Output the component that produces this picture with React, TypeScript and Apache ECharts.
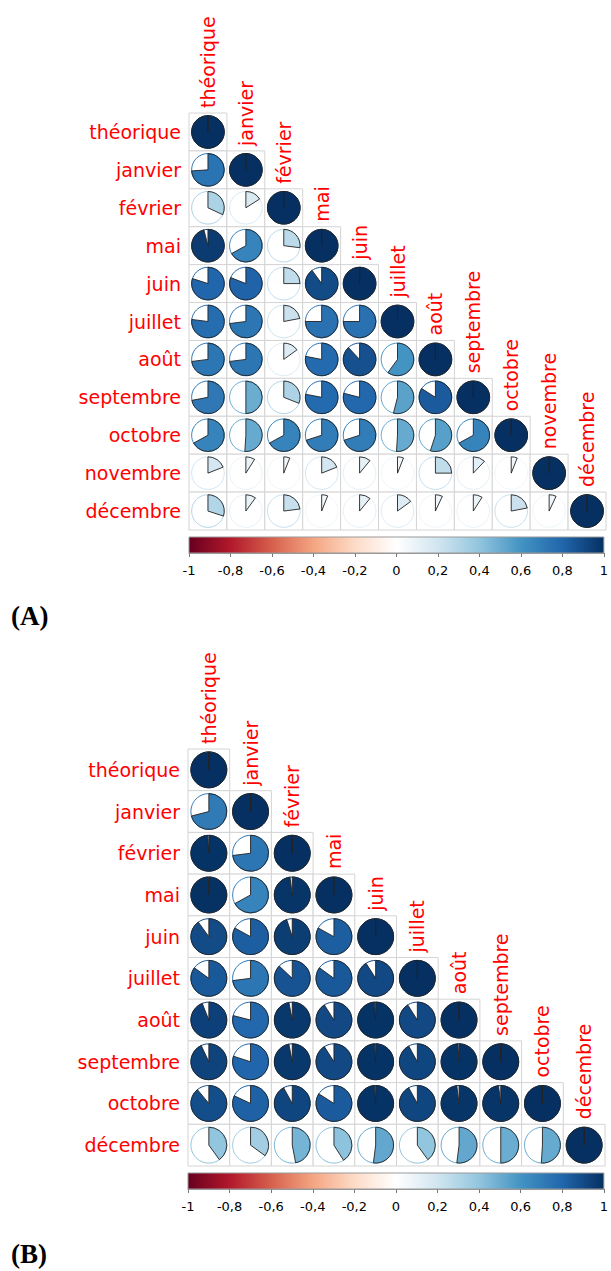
import React, { useEffect, useRef } from "react";
import * as echarts from "echarts";

// ---------- data ----------
const varsA = ["théorique", "janvier", "février", "mai", "juin", "juillet", "août", "septembre", "octobre", "novembre", "décembre"];
// lower triangle, row by row (row i has i+1 values)
const corrA_theorique = [1];
const corrA_janvier = [0.74, 1];
const corrA_fevrier = [0.32, 0.16, 1];
const corrA_mai = [0.96, 0.67, 0.27, 1];
const corrA_juin = [0.8, 0.81, 0.25, 0.9, 1];
const corrA_juillet = [0.77, 0.73, 0.22, 0.75, 0.75, 1];
const corrA_aout = [0.73, 0.73, 0.15, 0.78, 0.88, 0.6, 1];
const corrA_septembre = [0.72, 0.5, 0.31, 0.78, 0.79, 0.54, 0.84, 1];
const corrA_octobre = [0.67, 0.51, 0.67, 0.7, 0.7, 0.51, 0.55, 0.67, 1];
const corrA_novembre = [0.19, 0.09, 0.06, 0.19, 0.11, 0.06, 0.25, 0.12, 0.06, 1];
const corrA_decembre = [0.3, 0.1, 0.23, 0.06, 0.11, 0.15, 0.07, 0.09, 0.22, 0.07, 1];
const rowsA = [corrA_theorique, corrA_janvier, corrA_fevrier, corrA_mai, corrA_juin, corrA_juillet, corrA_aout, corrA_septembre, corrA_octobre, corrA_novembre, corrA_decembre];

const varsB = ["théorique", "janvier", "février", "mai", "juin", "juillet", "août", "septembre", "octobre", "décembre"];
const corrB_theorique = [1];
const corrB_janvier = [0.71, 1];
const corrB_fevrier = [0.99, 0.73, 1];
const corrB_mai = [0.995, 0.67, 0.98, 1];
const corrB_juin = [0.9, 0.83, 0.95, 0.83, 1];
const corrB_juillet = [0.85, 0.73, 0.87, 0.85, 0.91, 1];
const corrB_aout = [0.94, 0.79, 0.97, 0.91, 0.99, 0.91, 1];
const corrB_septembre = [0.93, 0.8, 0.97, 0.91, 0.99, 0.92, 0.99, 1];
const corrB_octobre = [0.89, 0.82, 0.92, 0.84, 0.99, 0.92, 0.98, 0.98, 1];
const corrB_decembre = [0.4, 0.35, 0.47, 0.41, 0.52, 0.4, 0.52, 0.5, 0.51, 1];
const rowsB = [corrB_theorique, corrB_janvier, corrB_fevrier, corrB_mai, corrB_juin, corrB_juillet, corrB_aout, corrB_septembre, corrB_octobre, corrB_decembre];

const colorbarTicks = [-1, -0.8, -0.6, -0.4, -0.2, 0, 0.2, 0.4, 0.6, 0.8, 1];
const RDBU = ["#67001F", "#B2182B", "#D6604D", "#F4A582", "#FDDBC7", "#FFFFFF", "#D1E5F0", "#92C5DE", "#4393C3", "#2166AC", "#053061"];

// ---------- helpers ----------
function hexToRgb(h: string) {
  const n = parseInt(h.slice(1), 16);
  return [(n >> 16) & 255, (n >> 8) & 255, n & 255];
}
function colorOf(v: number) {
  const t = ((v + 1) / 2) * 10;
  const i = Math.max(0, Math.min(9, Math.floor(t)));
  const f = t - i;
  const a = hexToRgb(RDBU[i]);
  const b = hexToRgb(RDBU[i + 1]);
  const c = a.map((x, k) => Math.round(x + (b[k] - x) * f));
  return `rgb(${c[0]},${c[1]},${c[2]})`;
}
function triData(rows: number[][]) {
  const out: number[][] = [];
  rows.forEach((row, r) => row.forEach((v, c) => out.push([c, r, v])));
  return out;
}

const LABEL_FONT = '19px "DejaVu Sans"';

function makeRender(vars: string[]) {
  return (params: any, api: any) => {
    const c = api.value(0);
    const r = api.value(1);
    const v = api.value(2);
    const pt = api.coord([c, r]);
    const sz = api.size([1, 1]);
    const w = sz[0];
    const h = sz[1];
    const R = Math.min(w, h) * 0.43;
    const col = colorOf(v);
    const frac = Math.min(Math.abs(v), 0.9999);
    const children: any[] = [
      {
        type: "rect",
        shape: { x: pt[0] - w / 2, y: pt[1] - h / 2, width: w, height: h },
        style: { fill: "#fff", stroke: "#d4d4d4", lineWidth: 1 },
      },
      {
        type: "circle",
        shape: { cx: pt[0], cy: pt[1], r: R },
        style: { fill: "#fff", stroke: col, lineWidth: 1 },
      },
      {
        type: "sector",
        shape: {
          cx: pt[0],
          cy: pt[1],
          r: R,
          r0: 0,
          startAngle: -Math.PI / 2,
          endAngle: -Math.PI / 2 + 2 * Math.PI * frac,
          clockwise: true,
        },
        style: { fill: col, stroke: "#222", lineWidth: 0.9 },
      },
    ];
    if (c === r) {
      children.push({
        type: "text",
        x: pt[0],
        y: pt[1] - h / 2 - 5,
        rotation: Math.PI / 2,
        style: { text: vars[c], fill: "#ff0000", font: LABEL_FONT, align: "left", verticalAlign: "middle" },
      });
    }
    return { type: "group", children };
  };
}

function colorbarRender(params: any, api: any) {
  const p0 = api.coord([-1, 1]);
  const p1 = api.coord([1, 0]);
  return {
    type: "rect",
    shape: { x: p0[0], y: p0[1], width: p1[0] - p0[0], height: p1[1] - p0[1] },
    style: {
      fill: new echarts.graphic.LinearGradient(
        0, 0, 1, 0,
        RDBU.map((cc, i) => ({ offset: i / (RDBU.length - 1), color: cc }))
      ),
      stroke: "#999",
      lineWidth: 1,
    },
  };
}

function matrixAxes(vars: string[], gridIndex: number) {
  const x = {
    type: "category",
    gridIndex,
    data: vars,
    axisLine: { show: false },
    axisTick: { show: false },
    axisLabel: { show: false },
    splitLine: { show: false },
  };
  const y = {
    type: "category",
    gridIndex,
    data: vars,
    inverse: true,
    axisLine: { show: false },
    axisTick: { show: false },
    splitLine: { show: false },
    axisLabel: { color: "#ff0000", fontSize: 19, fontFamily: "DejaVu Sans", margin: 8 },
  };
  return { x, y };
}
function colorbarAxes(gridIndex: number) {
  const x = {
    type: "value",
    gridIndex,
    min: colorbarTicks[0],
    max: colorbarTicks[colorbarTicks.length - 1],
    interval: 0.2,
    axisLine: { show: true, lineStyle: { color: "#999" } },
    axisTick: { show: true, length: 4, lineStyle: { color: "#777" } },
    splitLine: { show: false },
    axisLabel: {
      color: "#000",
      fontSize: 13,
      fontFamily: "DejaVu Sans",
      margin: 11,
      formatter: (v: number) => String(Math.round(v * 10) / 10).replace(".", ","),
    },
  };
  const y = { type: "value", gridIndex, min: 0, max: 1, show: false };
  return { x, y };
}

export default function App() {
  const ref = useRef<HTMLDivElement>(null);
  useEffect(() => {
    if (!ref.current) return;
    const chart = echarts.init(ref.current, undefined, { renderer: "svg" });
    const mA = matrixAxes(varsA, 0);
    const cA = colorbarAxes(1);
    const mB = matrixAxes(varsB, 2);
    const cB = colorbarAxes(3);
    chart.setOption({
      animation: false,
      backgroundColor: "#fff",
      grid: [
        { left: 189, top: 113, width: 417, height: 417 },
        { left: 189, top: 537, width: 417, height: 16 },
        { left: 188, top: 749, width: 417, height: 417 },
        { left: 188, top: 1173, width: 417, height: 16 },
      ],
      xAxis: [mA.x, cA.x, mB.x, cB.x],
      yAxis: [mA.y, cA.y, mB.y, cB.y],
      series: [
        { type: "custom", xAxisIndex: 0, yAxisIndex: 0, data: triData(rowsA), renderItem: makeRender(varsA), encode: { x: 0, y: 1 } },
        { type: "custom", xAxisIndex: 1, yAxisIndex: 1, data: [[-1, 0]], renderItem: colorbarRender, encode: { x: 0, y: 1 } },
        { type: "custom", xAxisIndex: 2, yAxisIndex: 2, data: triData(rowsB), renderItem: makeRender(varsB), encode: { x: 0, y: 1 } },
        { type: "custom", xAxisIndex: 3, yAxisIndex: 3, data: [[-1, 0]], renderItem: colorbarRender, encode: { x: 0, y: 1 } },
      ],
      graphic: [
        { type: "text", left: 11, top: 602, style: { text: "(A)", font: 'bold 27px "Liberation Serif"', fill: "#000" } },
        { type: "text", left: 11, top: 1240, style: { text: "(B)", font: 'bold 27px "Liberation Serif"', fill: "#000" } },
      ],
    });
    return () => chart.dispose();
  }, []);
  return <div ref={ref} style={{ position: "absolute", left: 0, top: 0, width: 611, height: 1271 }} />;
}
